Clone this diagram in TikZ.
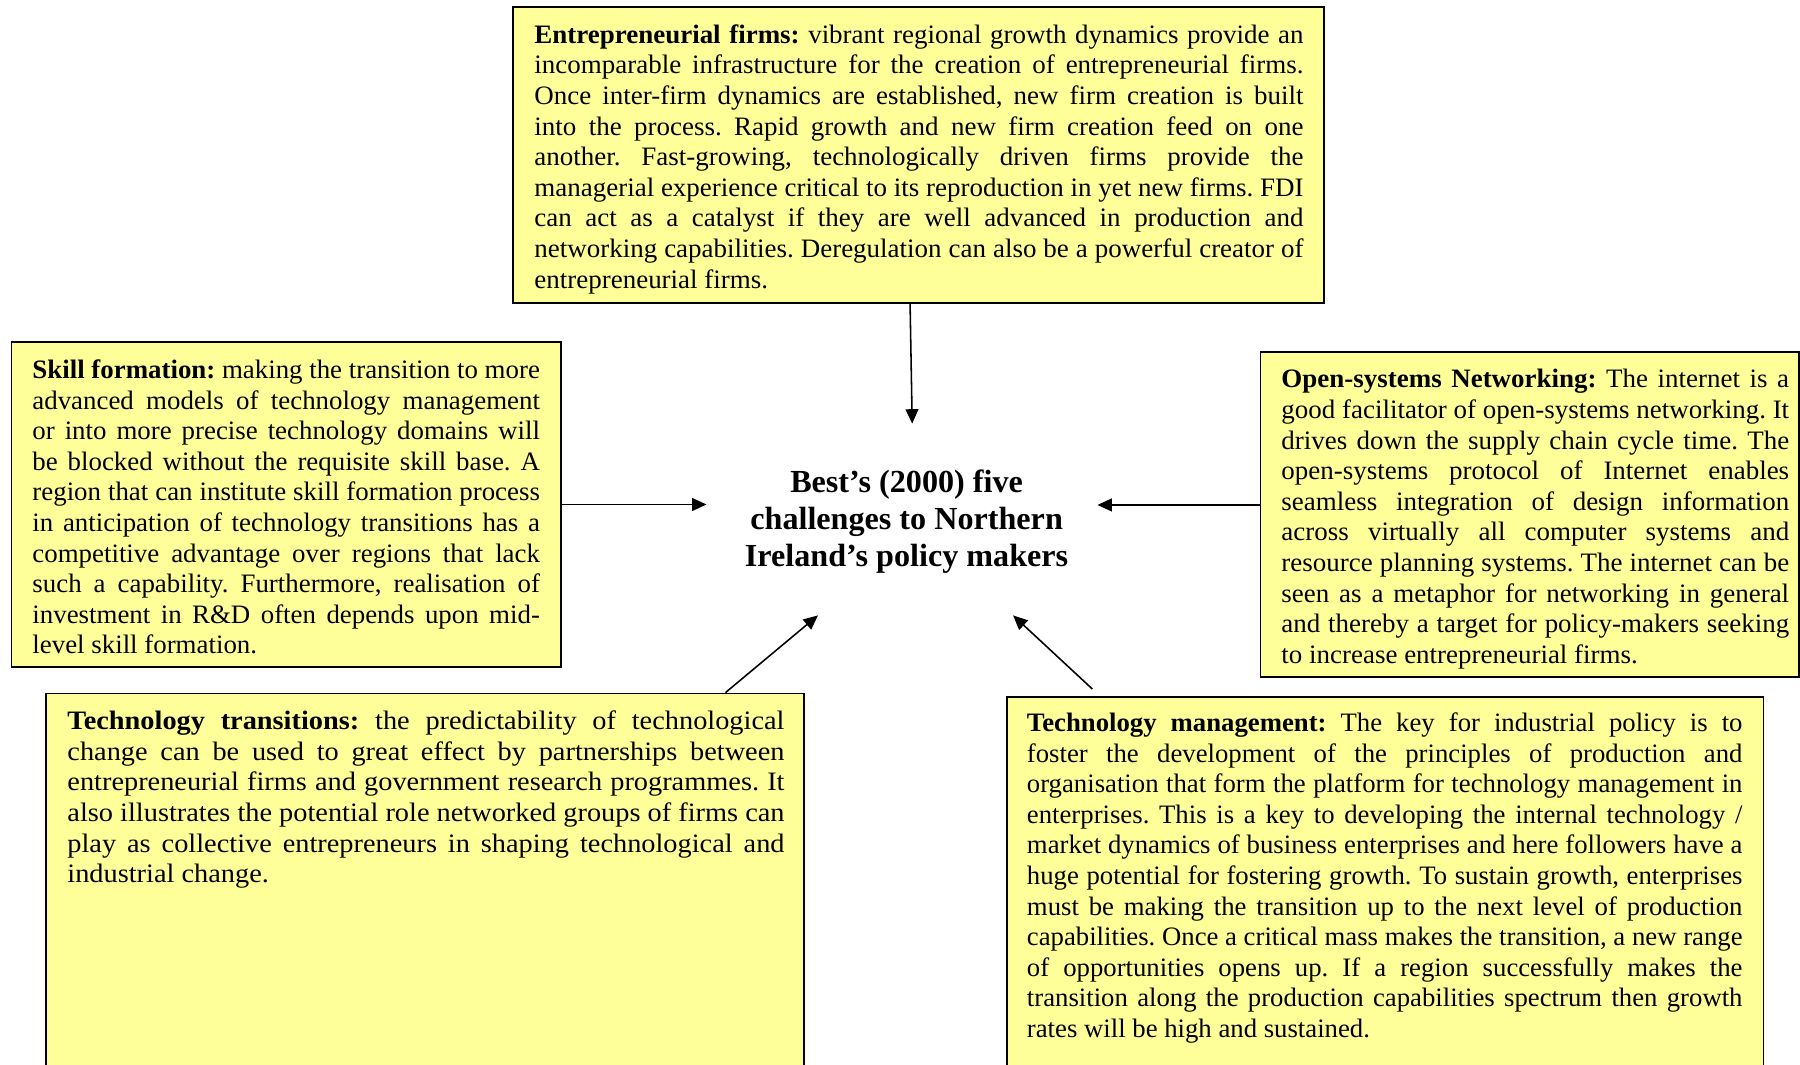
\documentclass[tikz,border=0pt]{standalone}
\usepackage{graphicx}
\usepackage{fontspec}
\setmainfont{Liberation Serif}
\usetikzlibrary{arrows.meta,fit}
\definecolor{boxyellow}{RGB}{255,255,153}
\newdimen\PX \PX=0.451pt
\newlength\jmaxw
\newlength\jtmpw
\frenchspacing
% justified block: #1 target width (px), #2 lines given as \JL{..} and a last \JE{..}
\newcommand\jtext[2]{%
  \begingroup
  \fontsize{12}{13.8}\selectfont\frenchspacing
  \global\jmaxw=0pt
  \def\JL##1{\settowidth\jtmpw{##1}\ifdim\jtmpw>\jmaxw\global\jmaxw=\jtmpw\fi}%
  \def\JE##1{}%
  \setbox0=\hbox{#2}%
  \def\JL##1{\hbox to\jmaxw{##1}}%
  \def\JE##1{\hbox{##1}}%
  \resizebox{#1\PX}{\height}{\parbox[t]{\jmaxw}{\fontsize{12}{13.8}\selectfont\frenchspacing #2}}%
  \endgroup}
\tikzset{
  ybox/.style={draw=black, fill=boxyellow, line width=0.8pt, inner sep=0pt},
  btext/.style={anchor=base west, inner sep=0pt},
  arr/.style={line width=0.7pt, -{Triangle[length=6.5pt,width=5.8pt]}},
  titlenode/.style={rectangle, inner sep=0pt, minimum width=175.9pt, minimum height=86.1pt,
    font=\fontsize{14.5}{16.55}\selectfont\bfseries}
}
\begin{document}
\begin{tikzpicture}[x=0.451pt, y=-0.451pt]
\useasboundingbox (0,0) rectangle (1800,1065);
\clip (0,0) rectangle (1800,1065);
% boxes
\node[ybox, fit={(513,7) (1324,303)}] (ent) {};
\node[ybox, fit={(11.5,342) (561,667)}] (skill) {};
\node[ybox, fit={(1260.5,352) (1799,677)}] (open) {};
\node[ybox, fit={(46,693.5) (804,1085)}] (tt) {};
\node[ybox, fit={(1007,697) (1763.5,1085)}] (tm) {};
% title
\node[titlenode] (title) at (902,519.5) {\raisebox{-1.05pt}[\height][\depth]{\makebox[0pt]{\hspace{4.15pt}\parbox{172pt}{\centering Best’s (2000) five\\challenges to Northern\\Ireland’s policy makers}}}};
% texts
\node[btext] (entT) at (534,43.3) {\jtext{769}{%
\JL{\textbf{Entrepreneurial firms:} vibrant regional growth dynamics provide an}%
\JL{incomparable infrastructure for the creation of entrepreneurial firms.}%
\JL{Once inter-firm dynamics are established, new firm creation is built}%
\JL{into the process. Rapid growth and new firm creation feed on one}%
\JL{another. Fast-growing, technologically driven firms provide the}%
\JL{managerial experience critical to its reproduction in yet new firms. FDI}%
\JL{can act as a catalyst if they are well advanced in production and}%
\JL{networking capabilities. Deregulation can also be a powerful creator of}%
\JE{entrepreneurial firms.}}};
\node[btext] (skillT) at (32,378.5) {\jtext{507.5}{%
\JL{\textbf{Skill formation:} making the transition to more}%
\JL{advanced models of technology management}%
\JL{or into more precise technology domains will}%
\JL{be blocked without the requisite skill base. A}%
\JL{region that can institute skill formation process}%
\JL{in anticipation of technology transitions has a}%
\JL{competitive advantage over regions that lack}%
\JL{such a capability. Furthermore, realisation of}%
\JL{investment in R\&D often depends upon mid-}%
\JE{level skill formation.}}};
\node[btext] (openT) at (1281,388) {\jtext{507.7}{%
\JL{\textbf{Open-systems Networking:} The internet is a}%
\JL{good facilitator of open-systems networking. It}%
\JL{drives down the supply chain cycle time. The}%
\JL{open-systems protocol of Internet enables}%
\JL{seamless integration of design information}%
\JL{across virtually all computer systems and}%
\JL{resource planning systems. The internet can be}%
\JL{seen as a metaphor for networking in general}%
\JL{and thereby a target for policy-makers seeking}%
\JE{to increase entrepreneurial firms.}}};
\node[btext] (ttT) at (67,729.8) {\jtext{717}{%
\JL{\textbf{Technology transitions:} the predictability of technological}%
\JL{change can be used to great effect by partnerships between}%
\JL{entrepreneurial firms and government research programmes. It}%
\JL{also illustrates the potential role networked groups of firms can}%
\JL{play as collective entrepreneurs in shaping technological and}%
\JE{industrial change.}}};
\node[btext] (tmT) at (1026.5,731.5) {\jtext{715.5}{%
\JL{\textbf{Technology management:} The key for industrial policy is to}%
\JL{foster the development of the principles of production and}%
\JL{organisation that form the platform for technology management in}%
\JL{enterprises. This is a key to developing the internal technology /}%
\JL{market dynamics of business enterprises and here followers have a}%
\JL{huge potential for fostering growth. To sustain growth, enterprises}%
\JL{must be making the transition up to the next level of production}%
\JL{capabilities. Once a critical mass makes the transition, a new range}%
\JL{of opportunities opens up. If a region successfully makes the}%
\JL{transition along the production capabilities spectrum then growth}%
\JE{rates will be high and sustained.}}};
% connectors
\draw[arr] ([xshift=-3.8pt]ent.south) -- ([xshift=4.6pt]title.north);
\draw[arr] (skill.east) -- (skill.east -| title.west);
\draw[arr] ([yshift=4.3pt]open.west) -- ([yshift=4.3pt]open.west -| title.east);
\draw[arr] ([xshift=135.5pt]tt.north) -- ([xshift=-37.9pt]title.south);
\draw[arr] ([xshift=-132.1pt,yshift=3.2pt]tm.north) -- ([xshift=50.1pt]title.south);
\end{tikzpicture}
\end{document}
